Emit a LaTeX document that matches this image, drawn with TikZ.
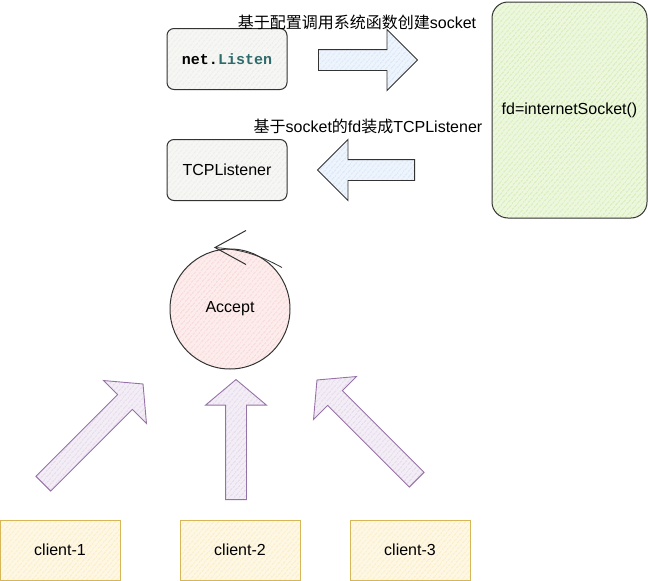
\documentclass[tikz,border=0pt]{standalone}
\usepackage{fontspec}
\setmainfont{Liberation Sans}
\setmonofont{Liberation Mono}
\newfontfamily\cjk{Noto Sans CJK SC}
\usetikzlibrary{shapes.arrows,patterns.meta}
\definecolor{listencol}{HTML}{2E6B6B}
\definecolor{greyhatch}{HTML}{E2E2DA}
\definecolor{bluehatch}{HTML}{C6DAF6}
\definecolor{greenhatch}{HTML}{BFE38C}
\definecolor{pinkhatch}{HTML}{F4C2BF}
\definecolor{purpleline}{HTML}{9673A6}
\definecolor{purplehatch}{HTML}{D6C4E2}
\definecolor{yellowline}{HTML}{D6B656}
\definecolor{yellowhatch}{HTML}{F8E3A6}
\begin{document}
\begin{tikzpicture}[x=1pt,y=-1pt,font=\fontsize{16}{19}\selectfont,
  hatch/.style={preaction={fill=#1!30},pattern={Lines[angle=50,distance=4pt,line width=0.9pt]},pattern color=#1},
  codebox/.style={draw=black!80,line width=1pt,rounded corners=7pt,minimum width=120pt,minimum height=61pt,hatch=greyhatch},
  clientbox/.style={draw=yellowline,line width=1pt,minimum width=120pt,minimum height=60pt,hatch=yellowhatch},
  blockarrow/.style={single arrow,draw,line width=0.9pt,inner sep=10pt,minimum width=0pt,single arrow head extend=20pt,anchor=tail},
  callarrow/.style={blockarrow,draw=black!80,hatch=bluehatch},
  connarrow/.style={blockarrow,draw=purpleline,hatch=purplehatch,single arrow tip angle=100}]
\useasboundingbox (0,0) rectangle (648,581);
\node[codebox] (listen) at (227,59) {\ttfamily\bfseries\fontsize{15}{18}\selectfont net.\textcolor{listencol}{Listen}};
\node[codebox] (tcpl) at (227,170) {TCPListener};
\node[draw=black!80,line width=1pt,rounded corners=16pt,minimum width=155pt,minimum height=216pt,hatch=greenhatch] (sock) at (569.5,110) {fd=internetSocket()};
\node[callarrow,minimum height=99pt] (create) at (318,60) {};
\node[callarrow,rotate=180,minimum height=97pt] (wrap) at (415,170) {};
\node (createlbl) at (357,22) {{\cjk 基于配置调用系统函数创建}socket};
\node (wraplbl) at (368,126) {{\cjk 基于}socket{\cjk 的}fd{\cjk 装成}TCPListener};
% accept loop
\node[circle,draw=black!80,line width=1pt,minimum size=120pt,hatch=pinkhatch] (accept) at (230,309) {Accept};
\coordinate (tip) at ([xshift=-15pt,yshift=1pt]accept.north);
\draw[black!80,line width=1pt] ([xshift=16pt,yshift=18pt]accept.north) -- (tip) -- ([xshift=16pt,yshift=-16pt]accept.north);
\draw[black!80,line width=0.8pt] (tip) to[bend left=12] ([xshift=52pt,yshift=-19pt]accept.north);
\node[clientbox] (c1) at (60,550) {client-1};
\node[clientbox] (c2) at (240,550) {client-2};
\node[clientbox] (c3) at (410,550) {client-3};
\node[connarrow,rotate=45,minimum height=141pt] (conn1) at (43,484) {};
\node[connarrow,rotate=90,minimum height=120pt] (conn2) at (236,500) {};
\node[connarrow,rotate=135,minimum height=141pt] (conn3) at (417,480) {};
\end{tikzpicture}
\end{document}
